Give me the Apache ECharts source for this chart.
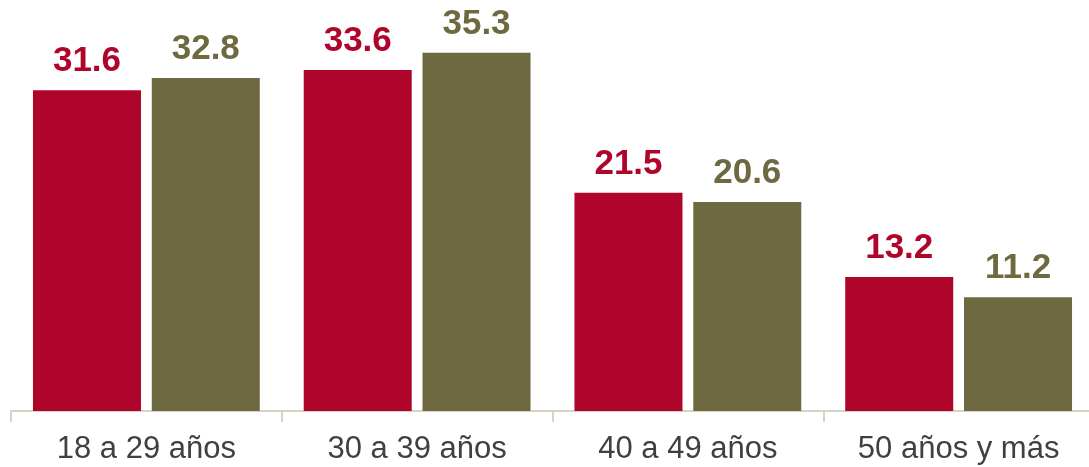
<!DOCTYPE html>
<html lang="es">
<head>
  <meta charset="UTF-8">
  <title>Grupos de edad</title>
  <script src="https://cdn.jsdelivr.net/npm/echarts@6/dist/echarts.min.js"></script>
  <style>
    html, body { margin: 0; padding: 0; background: #fff; overflow: hidden; }
    #target { width: 1094px; height: 467px; }
  </style>
</head>
<body>
  <div id="target"></div>
  <script>
    const categories = ['18 a 29 años', '30 a 39 años', '40 a 49 años', '50 años y más'];
    const serieA = [31.6, 33.6, 21.5, 13.2];
    const serieB = [32.8, 35.3, 20.6, 11.2];

    const RED = '#b0052b';
    const OLIVE = '#6e6940';

    function barSeries(name, data, color) {
      return {
        name,
        type: 'bar',
        data,
        barWidth: 108,
        barGap: '10%',
        itemStyle: { color },
        label: {
          show: true,
          position: 'top',
          distance: 11,
          color,
          fontFamily: 'Liberation Sans, Arial, sans-serif',
          fontWeight: 'bold',
          fontSize: 35,
          formatter: p => p.value.toFixed(1)
        }
      };
    }

    // the last category runs a few px past the window edge in the original
    const option = {
      animation: false,
      grid: { left: 11, right: 0, top: 5, bottom: 56, containLabel: false },
      xAxis: {
        type: 'category',
        data: categories,
        axisLine: { lineStyle: { color: '#d9d4c2', width: 2 } },
        axisTick: { show: true, length: 11, lineStyle: { color: '#d9d4c2', width: 2 } },
        axisLabel: {
          color: '#404040',
          fontFamily: 'Liberation Sans, Arial, sans-serif',
          fontSize: 31,
          margin: 23
        }
      },
      yAxis: {
        type: 'value',
        min: 0,
        max: 40,
        show: false,
        splitLine: { show: false }
      },
      series: [
        barSeries('A', serieA, RED),
        barSeries('B', serieB, OLIVE)
      ]
    };
    echarts.init(document.getElementById('target')).setOption(option);
  </script>
</body>
</html>
